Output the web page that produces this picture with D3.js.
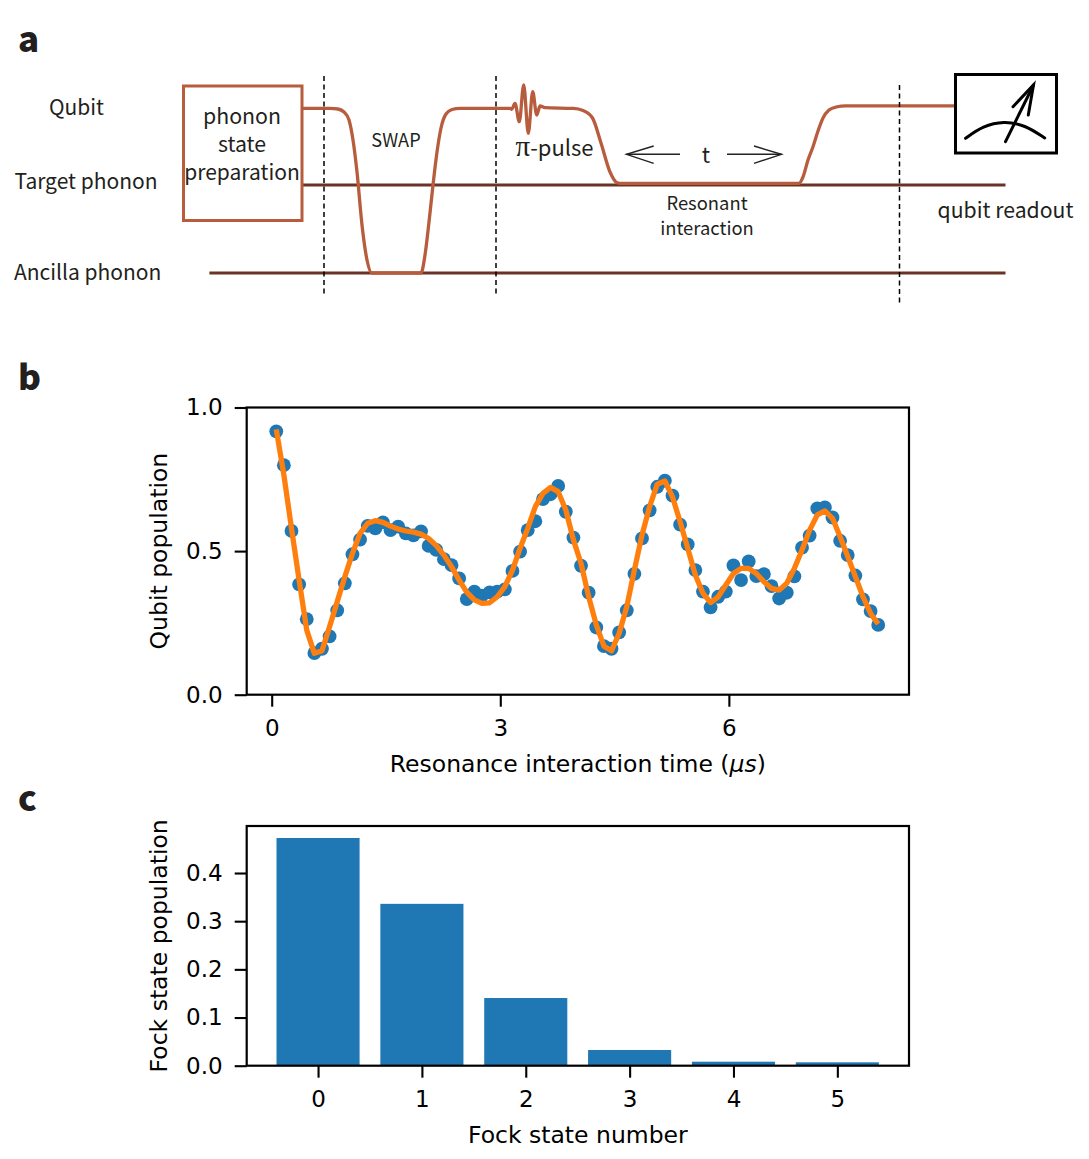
<!DOCTYPE html>
<html><head><meta charset="utf-8">
<style>
html,body{margin:0;padding:0;background:#fff}
svg{display:block}
.chart text{font-family:"DejaVu Sans",sans-serif;fill:#000}
.dia text{font-family:"Noto Sans CJK SC","Noto Sans",sans-serif;fill:#231f20}
</style>
<script src="https://cdn.jsdelivr.net/npm/d3@7/dist/d3.min.js"></script>
</head><body><svg id="c" width="1089" height="1159"></svg>
<script>
// ---------- panel b ----------
const times=[0.06,0.16,0.26,0.36,0.46,0.56,0.66,0.76,0.86,0.96,1.06,1.16,1.26,1.36,1.46,1.56,1.66,1.76,1.86,1.96,
2.06,2.16,2.26,2.36,2.46,2.56,2.66,2.76,2.86,2.96,3.06,3.16,3.26,3.36,3.46,3.56,3.66,3.76,3.86,3.96,
4.06,4.16,4.26,4.36,4.46,4.56,4.66,4.76,4.86,4.96,5.06,5.16,5.26,5.36,5.46,5.56,5.66,5.76,5.86,5.96,
6.06,6.16,6.26,6.36,6.46,6.56,6.66,6.76,6.86,6.96,7.06,7.16,7.26,7.36,7.46,7.56,7.66,7.76,7.86,7.96];
const measured=[0.917,0.799,0.570,0.384,0.263,0.145,0.160,0.203,0.294,0.388,0.489,0.540,0.588,0.579,0.600,0.573,0.585,0.562,0.555,0.569,
0.518,0.504,0.472,0.451,0.405,0.333,0.359,0.345,0.356,0.359,0.367,0.431,0.498,0.573,0.604,0.681,0.698,0.727,0.637,0.547,
0.449,0.355,0.234,0.169,0.160,0.217,0.294,0.421,0.544,0.642,0.724,0.745,0.693,0.592,0.523,0.434,0.359,0.304,0.341,0.359,
0.450,0.399,0.464,0.413,0.420,0.378,0.335,0.355,0.412,0.512,0.554,0.649,0.652,0.617,0.536,0.486,0.415,0.332,0.291,0.243];
const fitted=[0.924,0.765,0.579,0.399,0.225,0.144,0.153,0.237,0.324,0.411,0.492,0.562,0.597,0.606,0.600,0.587,0.577,0.570,0.566,0.559,
0.544,0.519,0.486,0.446,0.399,0.357,0.330,0.318,0.320,0.341,0.376,0.434,0.510,0.579,0.655,0.701,0.722,0.707,0.643,0.539,
0.457,0.341,0.243,0.169,0.153,0.214,0.306,0.434,0.556,0.655,0.733,0.744,0.689,0.602,0.510,0.417,0.353,0.321,0.341,0.382,
0.422,0.440,0.440,0.422,0.393,0.370,0.364,0.388,0.440,0.504,0.573,0.626,0.640,0.614,0.550,0.481,0.411,0.341,0.283,0.246];
const timeTicks=[0,3,6], popTicks=[0,0.5,1];
// ---------- panel c ----------
const fockStates=[0,1,2,3,4,5];
const fockPop=[0.4727,0.336,0.1405,0.0326,0.0083,0.007];
const fockYTicks=[0,0.1,0.2,0.3,0.4];
// ---------- panel a schematic (drawing units = page pixels) ----------
const qubitPulse=[[302,108.3],[330,108.3],[338,109],[344,112],[349,120],[353,140],[357,172],[362,225],[367,260],[371.8,273],[421,273],[425,255],[429,222],[433,185],[437,152],[441,128],[446,114],[452,109.5],[460,108.3],[510,108.3],
[511.7,109.3],[515,103.3],[519.3,121.7],[523.7,85],[528.3,133.3],[532.7,91.7],[536.7,115],[540,106],[545,107.7],[573.3,108.4],[583,110.5],[592.5,118],[601,143],[610,172],[617,182.7],[620,183.3],[799,183.3],[803,177],[808,160],[813,146.7],[818,131],[823,118],[829,110],[836,107],[846,105.9],[954.8,105.9]];
const phononLevels=[{x0:302,x1:1005.5,y:185},{x0:209.4,x1:1005.5,y:273}];
const dashes=[{x:324,y0:76,y1:294},{x:496,y0:76,y1:294},{x:899.5,y0:85,y1:303}];
const timeArrows=[[[680,154.3],[626.5,154.3]],[[727,154.3],[781.5,154.3]]];
const arrowHeads=[[[653.7,146],[626.5,154.3],[653.7,163.3]],[[754,146],[781.5,154.3],[754,163.3]]];
const meterArc=[[965.6,138.3],[983,126],[1003.8,121],[1025,125],[1044.7,138]];
const meterNeedle=[[[1005.5,141.7],[1033.5,85]],[[1013,106.7],[1033.5,85],[1028.3,115]]];
const diagramLabels=[
 {t:"Qubit",x:76.5,y:115,s:21,a:"middle"},
 {t:"Target phonon",x:14.5,y:188.5,s:21,a:"start"},
 {t:"Ancilla phonon",x:14,y:280,s:21,a:"start"},
 {t:"phonon",x:242,y:124,s:21.3,a:"middle"},
 {t:"state",x:242,y:152,s:21.3,a:"middle"},
 {t:"preparation",x:242,y:180,s:21,a:"middle"},
 {t:"SWAP",x:396,y:146.5,s:18.2,a:"middle"},
 {t:"t",x:706,y:163,s:22,a:"middle"},
 {t:"Resonant",x:707,y:210,s:18.4,a:"middle"},
 {t:"interaction",x:707,y:235,s:18.4,a:"middle"},
 {t:"qubit readout",x:1005.5,y:218,s:21.2,a:"middle"}];
const panelLetters=[{t:"a",y:52},{t:"b",y:390},{t:"c",y:811}];

const svg=d3.select("#c");
const px=d3.scaleIdentity(), py=d3.scaleIdentity();
const line=d3.line().x(d=>px(d[0])).y(d=>py(d[1]));

// panel a
const dia=svg.append("g").attr("class","dia");
const PULSE="#b85c3e",PHONON="#6b3226";
dia.selectAll("line.ph").data(phononLevels).join("line").attr("class","ph")
 .attr("x1",d=>px(d.x0)).attr("x2",d=>px(d.x1)).attr("y1",d=>py(d.y)).attr("y2",d=>py(d.y))
 .attr("stroke",PHONON).attr("stroke-width",3);
dia.append("path").attr("d",line.curve(d3.curveMonotoneX)(qubitPulse)).attr("fill","none").attr("stroke",PULSE).attr("stroke-width",3.3);
line.curve(d3.curveLinear);
dia.append("rect").attr("x",183.5).attr("y",86).attr("width",118.5).attr("height",134.5).attr("fill","none").attr("stroke",PULSE).attr("stroke-width",3);
dia.selectAll("line.da").data(dashes).join("line").attr("class","da")
 .attr("x1",d=>px(d.x)).attr("x2",d=>px(d.x)).attr("y1",d=>py(d.y0)).attr("y2",d=>py(d.y1))
 .attr("stroke","#000").attr("stroke-width",1.5).attr("stroke-dasharray","5,3.5");
dia.selectAll("path.ar").data(timeArrows.concat(arrowHeads)).join("path").attr("class","ar")
 .attr("d",line).attr("fill","none").attr("stroke","#222").attr("stroke-width",1.4);
dia.append("rect").attr("x",955.5).attr("y",74.5).attr("width",101).attr("height",78.5).attr("fill","#fff").attr("stroke","#000").attr("stroke-width",3);
dia.append("path").attr("d",line.curve(d3.curveBasis)(meterArc)).attr("fill","none").attr("stroke","#000").attr("stroke-width",3).attr("stroke-linecap","round");
line.curve(d3.curveLinear);
dia.selectAll("path.ne").data(meterNeedle).join("path").attr("class","ne").attr("d",line).attr("fill","none").attr("stroke","#000").attr("stroke-width",3).attr("stroke-linecap","round");
dia.selectAll("text.l").data(diagramLabels).join("text").attr("class","l")
 .attr("x",d=>d.x).attr("y",d=>d.y).attr("text-anchor",d=>d.a).attr("font-size",d=>d.s).text(d=>d.t);
const pi=dia.append("text").attr("x",515.5).attr("y",156).attr("font-size",22);
pi.append("tspan").attr("font-family","'Liberation Serif',serif").attr("font-size",29).text("π");
pi.append("tspan").text("-pulse");
dia.selectAll("text.pl").data(panelLetters).join("text").attr("class","pl")
 .attr("x",18).attr("y",d=>d.y).attr("font-size",35).attr("font-weight",900).text(d=>d.t);

function frame(g,x,y,xt,yt,xl,yl,xlY,ylX){
 const ax=g.append("g").attr("transform",`translate(0,${y.range()[0]})`)
  .call(d3.axisBottom(x).tickValues(xt).tickSize(12).tickPadding(12.6).tickFormat(d3.format("d")));
 const ay=g.append("g").attr("transform",`translate(${x.range()[0]},0)`)
  .call(d3.axisLeft(y).tickValues(yt).tickSize(12).tickPadding(12).tickFormat(d3.format(".1f")));
 [ax,ay].forEach(a=>{a.select(".domain").remove();
  a.selectAll("line").attr("stroke","#000").attr("stroke-width",2.1);
  a.selectAll("text").attr("font-size",23).attr("font-family","DejaVu Sans").attr("fill","#000");});
 g.append("rect").attr("x",x.range()[0]).attr("y",y.range()[1]).attr("width",x.range()[1]-x.range()[0]).attr("height",y.range()[0]-y.range()[1])
  .attr("fill","none").attr("stroke","#000").attr("stroke-width",2.2);
 const xc=(x.range()[0]+x.range()[1])/2, yc=(y.range()[0]+y.range()[1])/2;
 const xlab=g.append("text").attr("x",xc).attr("y",xlY).attr("text-anchor","middle").attr("font-size",23.5);
 xl.forEach(p=>xlab.append("tspan").attr("font-style",p.i?"italic":"normal").text(p.t));
 g.append("text").attr("transform",`translate(${ylX},${yc}) rotate(-90)`).attr("text-anchor","middle").attr("font-size",23.5).text(yl);
}

// panel b
const gb=svg.append("g").attr("class","chart");
const xb=d3.scaleLinear().domain([-0.328,8.364]).range([246.7,909]);
const yb=d3.scaleLinear().domain([0,1]).range([694.7,407.5]);
gb.selectAll("circle").data(times).join("circle").attr("cx",d=>xb(d)).attr("cy",(d,i)=>yb(measured[i])).attr("r",6.9).attr("fill","#1f77b4");
gb.append("path").datum(times).attr("d",d3.line().x(d=>xb(d)).y((d,i)=>yb(fitted[i]))).attr("fill","none").attr("stroke","#ff7f0e").attr("stroke-width",5.3).attr("stroke-linejoin","round");
frame(gb,xb,yb,timeTicks,popTicks,[{t:"Resonance interaction time ("},{t:"μs",i:true},{t:")"}],"Qubit population",772,167);

// panel c
const gc=svg.append("g").attr("class","chart");
const xc=d3.scaleLinear().domain([-0.687,5.69]).range([246.7,909]);
const yc=d3.scaleLinear().domain([0,0.4976]).range([1065.7,826]);
gc.selectAll("rect.b").data(fockStates).join("rect").attr("class","b")
 .attr("x",d=>xc(d-0.4)).attr("width",d=>xc(d+0.4)-xc(d-0.4)).attr("y",(d,i)=>yc(fockPop[i])).attr("height",(d,i)=>yc(0)-yc(fockPop[i])).attr("fill","#1f77b4");
frame(gc,xc,yc,fockStates,fockYTicks,[{t:"Fock state number"}],"Fock state population",1143,167);
</script></body></html>
